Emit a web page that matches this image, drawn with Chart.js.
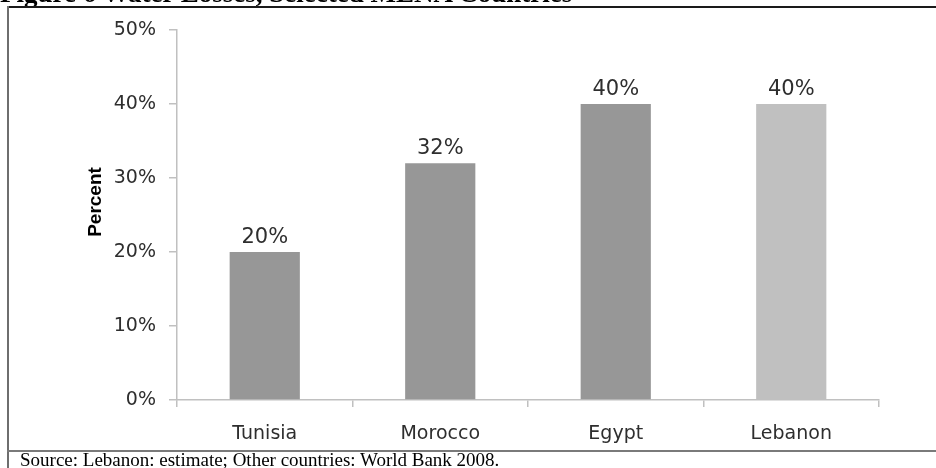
<!DOCTYPE html>
<html>
<head>
<meta charset="utf-8">
<script src="https://cdn.jsdelivr.net/npm/chart.js@4"></script>
<style>
  html, body { margin: 0; padding: 0; background: #fff; }
  #page { position: relative; width: 936px; height: 468px; overflow: hidden; }
  #chart { position: absolute; left: 0; top: 0; }
  .title {
    position: absolute; left: 0; top: -22px;
    font: bold 27px "Liberation Serif", "Times New Roman", serif;
    color: #000; white-space: nowrap;
  }
  .source {
    position: absolute; left: 20px; top: 449px;
    font: 19px "Liberation Serif", "Times New Roman", serif;
    color: #000; white-space: nowrap;
  }
  .rule-top { position: absolute; left: 7px; right: 0; top: 6px; height: 2px; background: #1a1a1a; }
  .rule-left { position: absolute; left: 7px; top: 6px; bottom: 0; width: 2px; background: #6e6e6e; }
  .rule-bottom { position: absolute; left: 7px; right: 0; top: 450px; height: 2px; background: #7a7a7a; }
</style>
</head>
<body>
<div id="page">
  <canvas id="chart" width="936" height="468"></canvas>
  <div class="title">Figure 6 Water Losses, Selected MENA Countries</div>
  <div class="rule-top"></div>
  <div class="rule-left"></div>
  <div class="rule-bottom"></div>
  <div class="source">Source: Lebanon: estimate; Other countries: World Bank 2008.</div>
</div>
<script>
const countries = ['Tunisia', 'Morocco', 'Egypt', 'Lebanon'];
const lossPercent = [20, 32, 40, 40];
const barColors = ['#979797', '#979797', '#979797', '#c0c0c0'];
const yTicks = [0, 10, 20, 30, 40, 50];

const textColor = '#2e2e2e';
const axisColor = '#c0c0c0';

// value above each bar, taken from the bar element itself
const valueLabels = {
  id: 'valueLabels',
  afterDatasetsDraw(chart) {
    const { ctx } = chart;
    const meta = chart.getDatasetMeta(0);
    ctx.save();
    ctx.font = '21px "DejaVu Sans"';
    ctx.fillStyle = textColor;
    ctx.textAlign = 'center';
    ctx.textBaseline = 'alphabetic';
    meta.data.forEach((bar, i) => {
      ctx.fillText(lossPercent[i] + '%', bar.x, bar.y - 9);
    });
    ctx.restore();
  },
};

// rotated "Percent" caption left of the y axis
const yCaption = {
  id: 'yCaption',
  afterDraw(chart) {
    const { ctx } = chart;
    ctx.save();
    ctx.translate(96, 202);
    ctx.rotate(-Math.PI / 2);
    ctx.font = 'bold 19px "Liberation Sans"';
    ctx.fillStyle = '#000';
    ctx.textAlign = 'center';
    ctx.textBaseline = 'middle';
    ctx.fillText('Percent', 0, 0);
    ctx.restore();
  },
};

new Chart(document.getElementById('chart'), {
  type: 'bar',
  data: {
    labels: countries,
    datasets: [{
      data: lossPercent,
      backgroundColor: barColors,
      borderWidth: 0,
      barPercentage: 0.4,
      categoryPercentage: 1,
    }],
  },
  options: {
    responsive: false,
    animation: false,
    layout: { padding: { left: 0, top: 30, right: 57, bottom: 0 } },
    plugins: {
      legend: { display: false },
      tooltip: { enabled: false },
    },
    scales: {
      x: {
        afterFit: (scale) => { scale.height = 68; },
        grid: { drawOnChartArea: false, tickLength: 7, color: axisColor, lineWidth: 1.5 },
        border: { color: axisColor, width: 1.5 },
        ticks: { color: textColor, font: { family: 'DejaVu Sans', size: 19 }, padding: 16 },
      },
      y: {
        min: 0,
        max: 50,
        afterFit: (scale) => { scale.width = 177; },
        afterBuildTicks: (scale) => { scale.ticks = yTicks.map((v) => ({ value: v })); },
        grid: { drawOnChartArea: false, tickLength: 8, color: axisColor, lineWidth: 1.5 },
        border: { color: axisColor, width: 1.5 },
        ticks: {
          color: textColor,
          font: { family: 'DejaVu Sans', size: 19 },
          padding: 13,
          callback: (v) => v + '%',
        },
      },
    },
  },
  plugins: [valueLabels, yCaption],
});
</script>
</body>
</html>
